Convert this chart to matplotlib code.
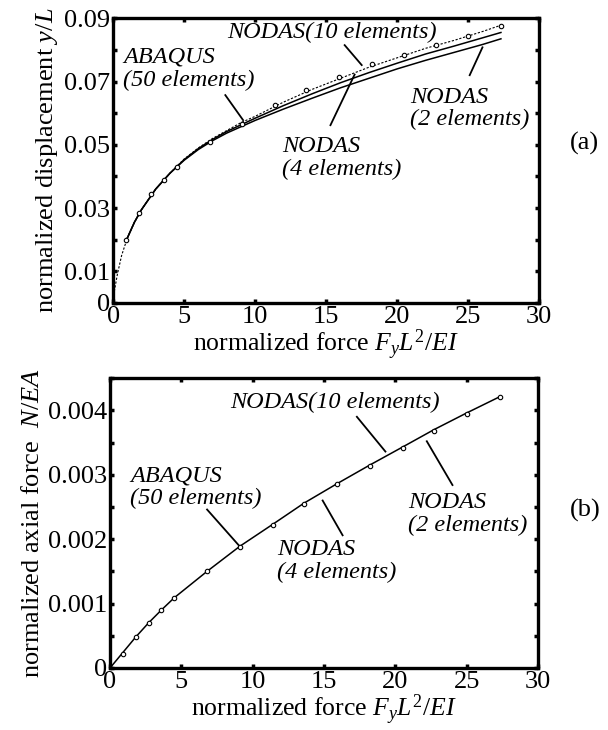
import matplotlib
matplotlib.use('Agg')
import matplotlib.pyplot as plt
import numpy as np

plt.rcParams['font.family'] = ['Liberation Serif', 'DejaVu Serif']
plt.rcParams['mathtext.fontset'] = 'custom'
plt.rcParams['mathtext.rm'] = 'Liberation Serif'
plt.rcParams['mathtext.it'] = 'Liberation Serif:italic'

# ---- data (a): normalized displacement y/L
abq_x = [0.9, 1.8, 2.7, 3.6, 4.5, 6.8, 9.1, 11.4, 13.6, 15.9, 18.2, 20.5, 22.7, 25.0, 27.3]
abq_disp = [0.020, 0.0285, 0.0345, 0.039, 0.043, 0.051, 0.0565, 0.0625, 0.0672, 0.0715,
            0.0755, 0.0785, 0.0815, 0.0845, 0.0875]

n10_x = [0, 0.1, 0.3, 0.6, 1, 1.5, 2, 3, 4, 5, 6, 7, 8, 9, 10, 12, 14, 16, 18, 20, 22, 24, 26, 27.3]
n10_disp = [0, 0.004, 0.009, 0.015, 0.0205, 0.0255, 0.0295, 0.036, 0.041, 0.0455, 0.049, 0.052,
            0.0545, 0.057, 0.059, 0.0635, 0.0675, 0.071, 0.0745, 0.0775, 0.0805, 0.083, 0.0858, 0.0878]

n4_x = [1, 1.5, 2, 3, 4, 5, 6, 7, 8, 10, 12, 14, 16, 18, 20, 22, 24, 26, 27.3]
n4_disp = [0.0205, 0.0255, 0.0295, 0.036, 0.041, 0.0453, 0.0488, 0.0517, 0.0542, 0.0584, 0.0624,
           0.0661, 0.0696, 0.0728, 0.0758, 0.0787, 0.0812, 0.0838, 0.0855]

n2_x = [1, 1.5, 2, 3, 4, 5, 6, 7, 8, 10, 12, 14, 16, 18, 20, 22, 24, 26, 27.3]
n2_disp = [0.0205, 0.0255, 0.0295, 0.036, 0.041, 0.0451, 0.0485, 0.0513, 0.0537, 0.0577, 0.0613,
           0.0647, 0.068, 0.071, 0.074, 0.0767, 0.0792, 0.0817, 0.0835]

# ---- data (b): normalized axial force N/EA
abq_axial = [0.00022, 0.00048, 0.0007, 0.0009, 0.00108, 0.0015, 0.00188, 0.00222, 0.00255,
             0.00285, 0.00314, 0.00342, 0.00368, 0.00395, 0.0042]
nodas_x = [0, 0.9, 1.8, 2.7, 3.6, 4.5, 6.8, 9.1, 11.4, 13.6, 15.9, 18.2, 20.5, 22.7, 25.0, 27.3]
nodas_axial = [0, 0.00024, 0.00048, 0.0007, 0.0009, 0.00109, 0.0015, 0.00189, 0.00223, 0.00256,
               0.00286, 0.00315, 0.00343, 0.0037, 0.00396, 0.00421]

xticks = [0, 5, 10, 15, 20, 25, 30]
yticks_a = [0, 0.01, 0.02, 0.03, 0.04, 0.05, 0.06, 0.07, 0.08, 0.09]
ylabels_a = ['0', '0.01', '', '0.03', '', '0.05', '', '0.07', '', '0.09']
yticks_b = [0, 0.0005, 0.001, 0.0015, 0.002, 0.0025, 0.003, 0.0035, 0.004, 0.0045]
ylabels_b = ['0', '', '0.001', '', '0.002', '', '0.003', '', '0.004', '']

FS = 19
FA = 17.5
fig = plt.figure(figsize=(6.08, 7.30), dpi=100)
ax1 = fig.add_axes([0.186, 0.585, 0.701, 0.390])
ax2 = fig.add_axes([0.181, 0.085, 0.704, 0.397])


def style(ax):
    for s in ax.spines.values():
        s.set_linewidth(2.4)
    ax.tick_params(direction='in', length=3, width=2.5, top=True, right=True,
                   labelsize=FS, pad=2)
    ax.set_xlim(0, 30)
    ax.set_xticks(xticks)
    ax.set_xlabel('normalized force $F_yL^2/EI$', fontsize=18.5, labelpad=0)


def note(ax, text, txy, start, end):
    ax.text(txy[0], txy[1], text, fontsize=FA, style='italic', ha='left', va='center',
            linespacing=1.1)
    ax.plot([start[0], end[0]], [start[1], end[1]], color='black', lw=1.3)


# (a)
ax1.plot(n10_x, n10_disp, color='black', lw=0.8, linestyle=(0, (2, 1.5)))
ax1.plot(n4_x, n4_disp, color='black', lw=1.1)
ax1.plot(n2_x, n2_disp, color='black', lw=1.1)
ax1.plot(abq_x, abq_disp, linestyle='none', marker='o', ms=3.2, mfc='white', mec='black', mew=0.8)
style(ax1)
ax1.set_ylim(0, 0.09)
ax1.set_yticks(yticks_a)
ax1.set_yticklabels(ylabels_a)
ax1.set_ylabel('normalized displacement $y/L$', fontsize=FS, labelpad=3)

note(ax1, 'ABAQUS\n(50 elements)', (0.7, 0.074), (7.9, 0.0657), (9.15, 0.0578))
note(ax1, 'NODAS(10 elements)', (8.0, 0.0856), (16.3, 0.0815), (17.5, 0.0752))
note(ax1, 'NODAS\n(4 elements)', (11.9, 0.0458), (15.3, 0.0562), (17.0, 0.0722))
note(ax1, 'NODAS\n(2 elements)', (20.9, 0.0615), (25.1, 0.072), (26.0, 0.0808))

# (b)
ax2.plot(nodas_x, nodas_axial, color='black', lw=1.1)
ax2.plot(abq_x, abq_axial, linestyle='none', marker='o', ms=3.2, mfc='white', mec='black', mew=0.8)
style(ax2)
ax2.set_ylim(0, 0.0045)
ax2.set_yticks(yticks_b)
ax2.set_yticklabels(ylabels_b)
ax2.set_ylabel('normalized axial force  $N/EA$', fontsize=FS, labelpad=3)

note(ax2, 'ABAQUS\n(50 elements)', (1.4, 0.0028), (6.8, 0.00246), (9.0, 0.00191))
note(ax2, 'NODAS(10 elements)', (8.4, 0.00412), (17.3, 0.0039), (19.3, 0.00336))
note(ax2, 'NODAS\n(4 elements)', (11.7, 0.00166), (14.9, 0.0026), (16.3, 0.00206))
note(ax2, 'NODAS\n(2 elements)', (20.9, 0.00239), (22.2, 0.00352), (24.0, 0.00284))

fig.text(0.962, 0.804, '(a)', fontsize=FS, ha='center', va='center')
fig.text(0.962, 0.301, '(b)', fontsize=FS, ha='center', va='center')

fig.savefig('out.png', dpi=100)
